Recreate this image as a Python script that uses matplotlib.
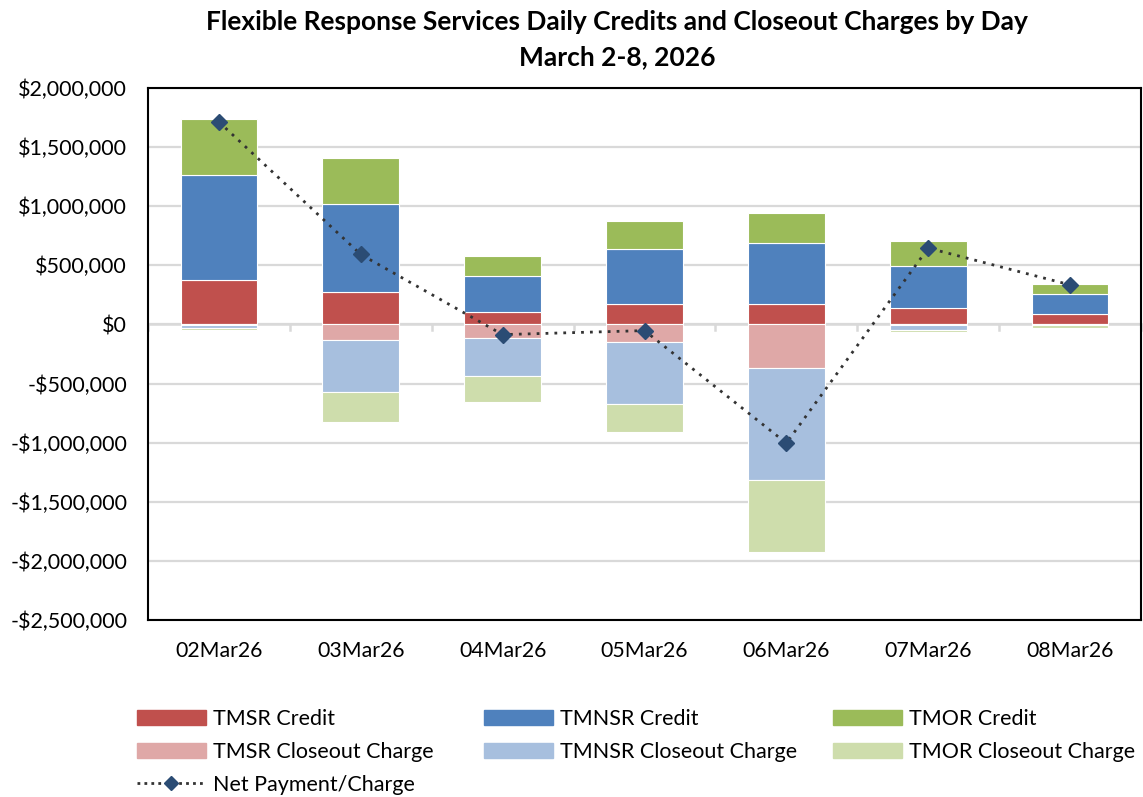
import numpy as np
import matplotlib.pyplot as plt
from matplotlib.ticker import FuncFormatter
from matplotlib.lines import Line2D
from matplotlib.patches import Patch

plt.rcParams['font.family'] = ['Lato', 'DejaVu Sans']

# Data (dollars)
days = ['02Mar26', '03Mar26', '04Mar26', '05Mar26', '06Mar26', '07Mar26', '08Mar26']
tmsr_credit = [380000, 278000, 108000, 174000, 174000, 142000, 92000]
tmnsr_credit = [881000, 743000, 306000, 460000, 511000, 356000, 169000]
tmor_credit = [474000, 390000, 169000, 237000, 254000, 204000, 85000]
tmsr_charge = [-5000, -129000, -114000, -146000, -369000, -5000, -3000]
tmnsr_charge = [-25000, -441000, -320000, -528000, -949000, -39000, -5000]
tmor_charge = [-14000, -254000, -220000, -234000, -607000, -17000, -19000]
net = [1713000, 592000, -86000, -52000, -1004000, 646000, 335000]

c_tmsr, c_tmnsr, c_tmor = '#C0504D', '#4F81BD', '#9BBB59'
c_tmsr_l, c_tmnsr_l, c_tmor_l = '#DFA8A7', '#A7BFDE', '#CEDDAC'

fig = plt.figure(figsize=(11.43, 7.97), dpi=100)
ax = fig.add_axes([148 / 1143, 1 - 620 / 797, 993 / 1143, 532 / 797])

x = np.arange(len(days))
w = 0.54
edge = dict(edgecolor='white', linewidth=0.8, zorder=3)

# positive stack (credits)
pos_bottom = np.zeros(len(days))
for vals, col in [(tmsr_credit, c_tmsr), (tmnsr_credit, c_tmnsr), (tmor_credit, c_tmor)]:
    ax.bar(x, vals, w, bottom=pos_bottom, color=col, **edge)
    pos_bottom += np.array(vals)

# negative stack (closeout charges)
neg_bottom = np.zeros(len(days))
for vals, col in [(tmsr_charge, c_tmsr_l), (tmnsr_charge, c_tmnsr_l), (tmor_charge, c_tmor_l)]:
    ax.bar(x, vals, w, bottom=neg_bottom, color=col, **edge)
    neg_bottom += np.array(vals)

ax.plot(x, net, linestyle=(0, (1, 2.2)), color='#333333', linewidth=2,
        marker='D', markersize=8, markerfacecolor='#2B4C74', markeredgecolor='#2B4C74',
        zorder=5)

ax.set_xlim(-0.5, len(days) - 0.5)
ax.set_ylim(-2500000, 2000000)
ax.set_yticks(np.arange(-2500000, 2000001, 500000))
ax.yaxis.grid(True, color='#D9D9D9', linewidth=1.6, zorder=0)
ax.set_axisbelow(True)


def money(v, pos):
    if v == 0:
        return '$0'
    s = '${:,.0f}'.format(abs(v))
    return '-' + s if v < 0 else s


ax.yaxis.set_major_formatter(FuncFormatter(money))
ax.tick_params(axis='y', length=0, labelsize=15.5, pad=15)
ax.set_xticks(x)
ax.set_xticklabels(days)
ax.tick_params(axis='x', length=0, labelsize=15.3, pad=15)

# category axis drawn at zero with divider ticks
ax.axhline(0, color='#D9D9D9', linewidth=1.8, zorder=1)
for b in np.arange(-0.5, len(days), 1.0):
    ax.plot([b, b], [0, -45000], color='#D9D9D9', linewidth=1.8, zorder=1, clip_on=False)

for sp in ax.spines.values():
    sp.set_color('black')
    sp.set_linewidth(1.5)

fig.text(617 / 1143, 1 - 22 / 797, 'Flexible Response Services Daily Credits and Closeout Charges by Day',
         ha='center', va='center', fontsize=19, fontweight='bold')
fig.text(617 / 1143, 1 - 57 / 797, 'March 2-8, 2026',
         ha='center', va='center', fontsize=19, fontweight='bold')

# legend in three columns
net_handle = Line2D([], [], linestyle=(0, (1, 1.5)), color='#333333', linewidth=2,
                    marker='D', markersize=7, markerfacecolor='#2B4C74', markeredgecolor='#2B4C74')
cols = [
    ([Patch(color=c_tmsr), Patch(color=c_tmsr_l), net_handle],
     ['TMSR Credit', 'TMSR Closeout Charge', 'Net Payment/Charge'], 137),
    ([Patch(color=c_tmnsr), Patch(color=c_tmnsr_l)],
     ['TMNSR Credit', 'TMNSR Closeout Charge'], 484),
    ([Patch(color=c_tmor), Patch(color=c_tmor_l)],
     ['TMOR Credit', 'TMOR Closeout Charge'], 833),
]
for handles, labels, xpos in cols:
    fig.legend(handles, labels, loc='upper left', bbox_to_anchor=(xpos / 1143, 1 - 709 / 797),
               frameon=False, fontsize=15.5, handlelength=3.2, handleheight=0.75,
               handletextpad=0.35, labelspacing=0.6, borderaxespad=0, borderpad=0)

fig.savefig('out.png', dpi=100)
